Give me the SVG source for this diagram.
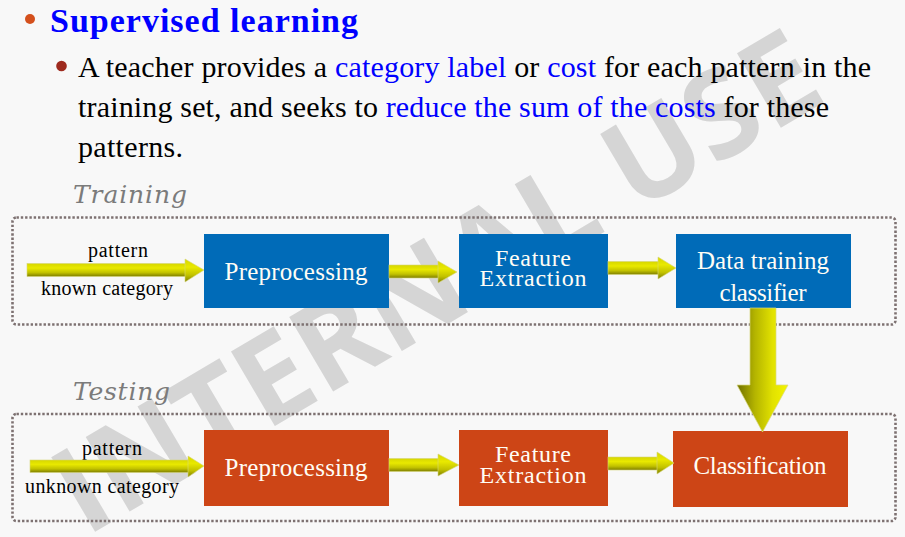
<svg xmlns="http://www.w3.org/2000/svg" width="905" height="537" viewBox="0 0 905 537">
  <defs>
    <style>
      .serif { font-family: "Liberation Serif", "Times New Roman", serif; }
      .body { font-size: 30px; fill: #000; }
      .hl { fill: #0000ff; }
      .phase { font-family: "DejaVu Serif", "Liberation Serif", serif; font-style: italic; font-size: 25px; fill: #7b7b7b; }
      .frame { fill: none; stroke: #7d7171; stroke-width: 2.6; stroke-dasharray: 2.4 1.9; }
      .blue { fill: #006bb8; }
      .orange { fill: #cd4516; }
      .boxtxt { font-family: "Liberation Serif", "Times New Roman", serif; font-size: 25px; fill: #fffdf5; text-anchor: middle; }
      .tight { font-size: 24px; }
      .lbl { font-family: "Liberation Serif", "Times New Roman", serif; font-size: 20px; fill: #000; }
      .wm { font-family: "Open Sans", "DejaVu Sans", sans-serif; font-weight: 700; font-size: 121px; fill: #d5d5d5; }
      .hshaft, .hhead { fill: url(#gH); stroke: #d6d67a; stroke-width: 0.6; }
    </style>
    <!-- horizontal arrow shading: light top, olive bottom -->
    <linearGradient id="gH" x1="0" y1="0" x2="0" y2="1">
      <stop offset="0" stop-color="#d6d600"/>
      <stop offset="0.35" stop-color="#e9e900"/>
      <stop offset="0.7" stop-color="#c2c200"/>
      <stop offset="1" stop-color="#7e7e00"/>
    </linearGradient>
    <!-- vertical arrow shading: olive left, bright right -->
    <linearGradient id="gV" gradientUnits="userSpaceOnUse" x1="737" y1="0" x2="788" y2="0">
      <stop offset="0" stop-color="#6f6f00"/>
      <stop offset="0.35" stop-color="#b4b400"/>
      <stop offset="0.7" stop-color="#e2e200"/>
      <stop offset="1" stop-color="#f4f400"/>
    </linearGradient>
  </defs>

  <!-- page -->
  <rect x="0" y="0" width="905" height="537" fill="#f8f8f8"/>

  <!-- watermark -->
  <g transform="translate(436,281) rotate(-30.5)">
    <text class="wm" x="0" y="43" text-anchor="middle">INTERNAL USE</text>
  </g>

  <!-- heading and description -->
  <circle cx="30" cy="19" r="5" fill="#d4501c"/>
  <text class="serif" x="50" y="32" font-size="34" font-weight="700" fill="#0000ff" textLength="308">Supervised learning</text>
  <circle cx="61.5" cy="66" r="5.3" fill="#9e2a1e"/>
  <text class="serif body" x="78" y="77" textLength="793">A teacher provides a <tspan class="hl">category label</tspan> or <tspan class="hl">cost</tspan> for each pattern in the</text>
  <text class="serif body" x="78" y="117" textLength="751">training set, and seeks to <tspan class="hl">reduce the sum of the costs</tspan> for these</text>
  <text class="serif body" x="78" y="157" textLength="105">patterns.</text>

  <!-- phase frames -->
  <text class="phase" x="73" y="203" textLength="114">Training</text>
  <rect class="frame" x="12.5" y="217.5" width="883" height="107" rx="4"/>
  <text class="phase" x="73" y="400" textLength="97">Testing</text>
  <rect class="frame" x="12.5" y="414" width="883" height="107" rx="4"/>

  <!-- input labels -->
  <text class="lbl" x="88" y="257" textLength="60">pattern</text>
  <text class="lbl" x="41" y="295" textLength="132">known category</text>
  <text class="lbl" x="82" y="455" textLength="60">pattern</text>
  <text class="lbl" x="25" y="493" textLength="154">unknown category</text>

  <!-- training nodes -->
  <g id="train-preprocessing">
    <rect class="blue" x="204" y="234" width="185" height="74"/>
    <text class="boxtxt" x="296" y="280" textLength="143">Preprocessing</text>
  </g>
  <g id="train-feature-extraction">
    <rect class="blue" x="459" y="234" width="149" height="74"/>
    <text class="boxtxt tight" x="533" y="266" textLength="76">Feature</text>
    <text class="boxtxt tight" x="533" y="286" textLength="107">Extraction</text>
  </g>
  <g id="data-training-classifier">
    <rect class="blue" x="676" y="234" width="175" height="74"/>
    <text class="boxtxt" x="763" y="269" textLength="132">Data training</text>
    <text class="boxtxt" x="763" y="301" textLength="87">classifier</text>
  </g>

  <!-- testing nodes -->
  <g id="test-preprocessing">
    <rect class="orange" x="204" y="430" width="185" height="76"/>
    <text class="boxtxt" x="296" y="476" textLength="143">Preprocessing</text>
  </g>
  <g id="test-feature-extraction">
    <rect class="orange" x="459" y="430" width="149" height="76"/>
    <text class="boxtxt tight" x="533" y="462" textLength="76">Feature</text>
    <text class="boxtxt tight" x="533" y="483" textLength="107">Extraction</text>
  </g>
  <g id="classification">
    <rect class="orange" x="673" y="431" width="175" height="76"/>
    <text class="boxtxt" x="760" y="474" textLength="133">Classification</text>
  </g>

  <!-- connectors -->
  <g id="connectors">
    <g>
      <rect class="hshaft" x="27" y="263.5" width="159" height="13"/>
      <polygon class="hhead" points="185,259 204,270 185,282"/>
    </g>
    <g>
      <rect class="hshaft" x="389" y="265" width="50" height="13"/>
      <polygon class="hhead" points="438,261 457,272 438,283"/>
    </g>
    <g>
      <rect class="hshaft" x="608" y="261.5" width="51" height="13"/>
      <polygon class="hhead" points="658,257 676,268 658,279"/>
    </g>
    <g>
      <rect class="hshaft" x="30" y="460" width="159" height="12.5"/>
      <polygon class="hhead" points="188,456 204,466 188,477"/>
    </g>
    <g>
      <rect class="hshaft" x="389" y="458.5" width="50" height="13"/>
      <polygon class="hhead" points="438,454 459,465 438,476"/>
    </g>
    <g>
      <rect class="hshaft" x="608" y="457" width="50" height="13"/>
      <polygon class="hhead" points="657,452 674,463 657,474"/>
    </g>
    <!-- classifier model feeds the classification step -->
    <polygon points="750,308 776,308 776,385 788,385 762.5,432 737,385 750,385" fill="url(#gV)" stroke="#d8d880" stroke-width="0.7"/>
  </g>
</svg>
